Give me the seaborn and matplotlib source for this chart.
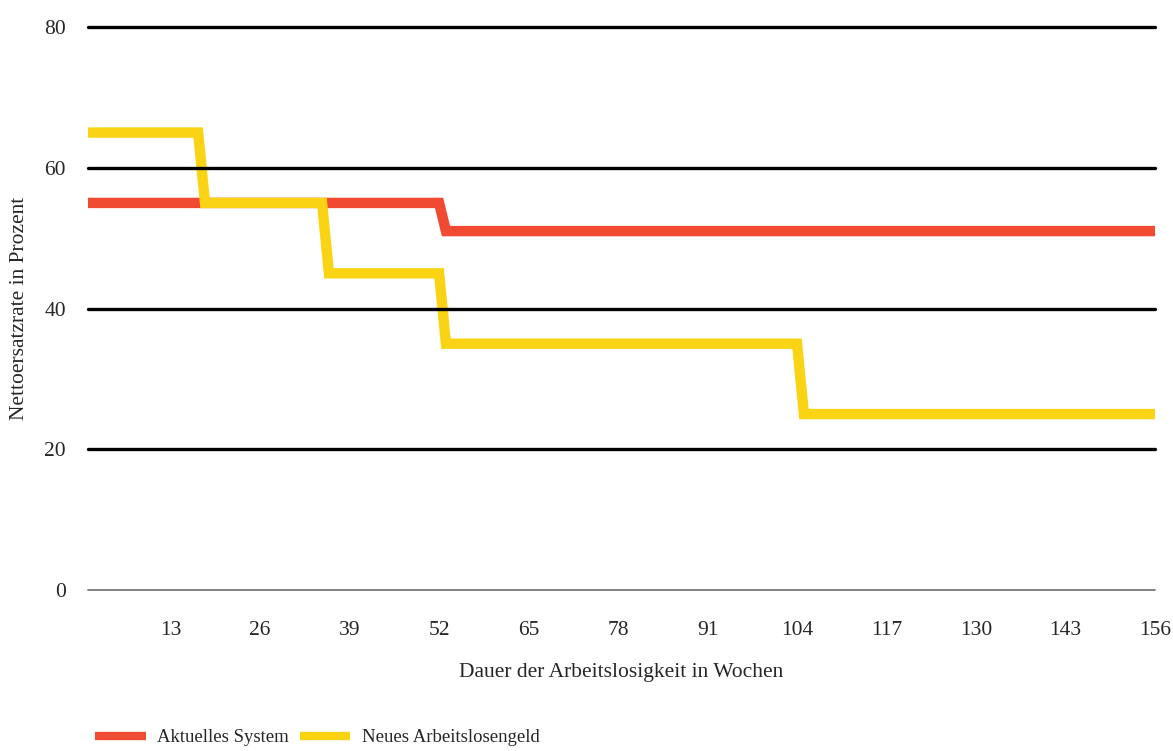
import pandas as pd
import seaborn as sns
import matplotlib.pyplot as plt

# step data (weeks, net replacement rate in %)
weeks_aktuell = [0, 52, 53, 156]
rate_aktuell = [55, 55, 51, 51]

weeks_neu = [0, 17, 18, 35, 36, 52, 53, 104, 105, 156]
rate_neu = [65, 65, 55, 55, 45, 45, 35, 35, 25, 25]

x_ticks = [13, 26, 39, 52, 65, 78, 91, 104, 117, 130, 143, 156]
y_ticks = [0, 20, 40, 60, 80]

red = '#F04A33'
yellow = '#FAD414'

sns.set_style('white')
plt.rcParams['font.family'] = ['Liberation Serif', 'DejaVu Serif']

df = pd.concat([
    pd.DataFrame({'Woche': weeks_aktuell, 'Rate': rate_aktuell, 'System': 'Aktuelles System'}),
    pd.DataFrame({'Woche': weeks_neu, 'Rate': rate_neu, 'System': 'Neues Arbeitslosengeld'}),
])

fig = plt.figure(figsize=(11.73, 7.51), dpi=100)
ax = fig.add_axes([88 / 1173, 1 - 590 / 751, (1155 - 88) / 1173, (590 - 27) / 751])

sns.lineplot(data=df, x='Woche', y='Rate', hue='System', palette=[red, yellow],
             estimator=None, sort=False, linewidth=7.5, ax=ax, legend=False,
             solid_joinstyle='miter', solid_capstyle='butt')

for y in y_ticks:
    if y == 0:
        ax.axhline(y, color='#777777', linewidth=1.3, zorder=3, clip_on=False)
    else:
        ax.axhline(y, color='black', linewidth=2.4, zorder=3, clip_on=False)

ax.set_xlim(1, 156)
ax.set_ylim(0, 80)
ax.set_xticks(x_ticks)
ax.set_yticks(y_ticks)
ax.tick_params(axis='both', length=0, labelsize=15.5)
ax.tick_params(axis='x', pad=22)
ax.tick_params(axis='y', pad=16)
sns.despine(ax=ax, left=True, bottom=True)

ax.set_xlabel('Dauer der Arbeitslosigkeit in Wochen', fontsize=15.5, labelpad=17)
ax.set_ylabel('Nettoersatzrate in Prozent', fontsize=15.5, labelpad=11)

handles = [plt.Line2D([], [], color=red, linewidth=6, solid_capstyle='butt'),
           plt.Line2D([], [], color=yellow, linewidth=6, solid_capstyle='butt')]
fig.legend(handles, ['Aktuelles System', 'Neues Arbeitslosengeld'],
           loc='lower left', bbox_to_anchor=(78 / 1173, -0.016), ncol=2,
           frameon=False, fontsize=13.5, handlelength=2.7, handletextpad=0.6,
           columnspacing=0.6)

fig.savefig('out.png', dpi=100)
